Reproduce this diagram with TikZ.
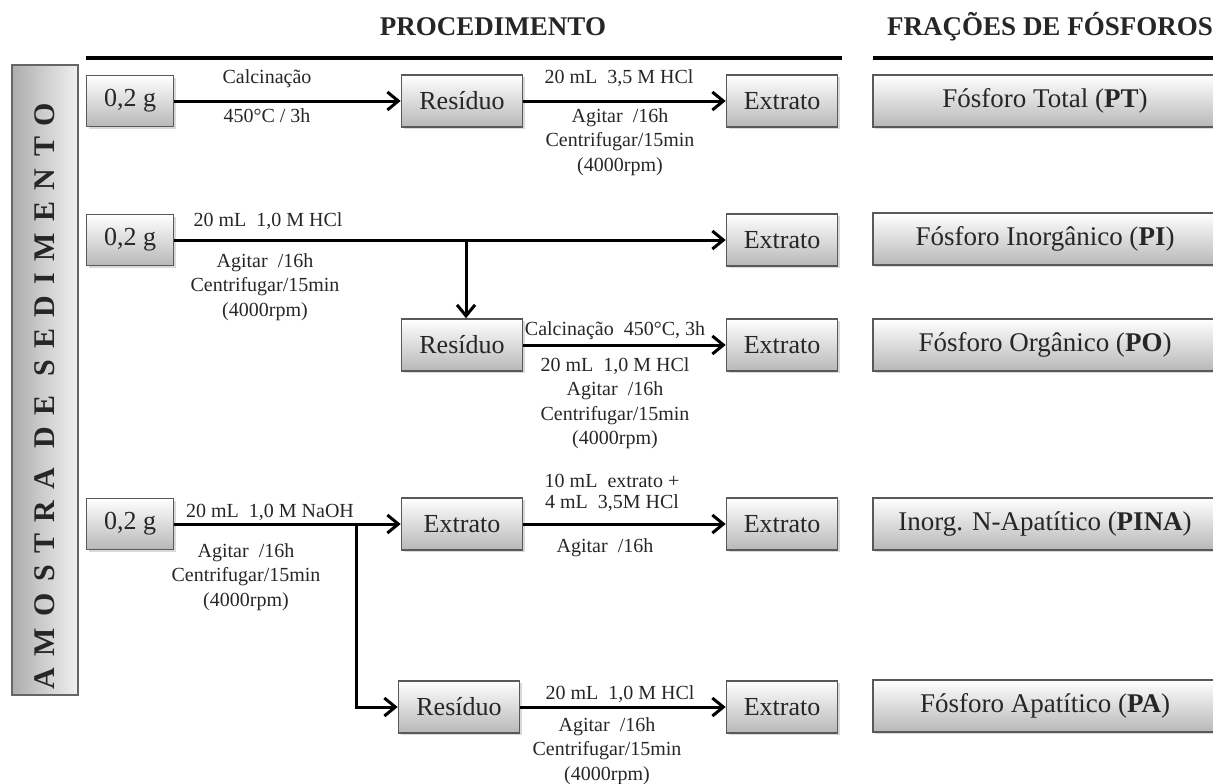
\documentclass[tikz,border=0pt]{standalone}
\usepackage{fontspec}
\setmainfont{Liberation Serif}
\usetikzlibrary{arrows.meta,shadows}

\tikzset{
  box/.style={draw=black!65, line width=0.8pt, top color=white, bottom color=black!28,
    drop shadow={shadow xshift=1.2pt, shadow yshift=-1.2pt, opacity=0.3},
    inner sep=0pt, text=black!85, font=\fontsize{13}{15}\selectfont},
  smallbox/.style={box, minimum width=43.5pt, minimum height=25.5pt},
  midbox/.style={box, minimum width=60.5pt, minimum height=26pt},
  outbox/.style={box, minimum width=55.5pt, minimum height=26pt},
  fracbox/.style={box, minimum width=172pt, minimum height=26pt, font=\fontsize{13.5}{15}\selectfont},
  lbl/.style={align=center, text=black!85, inner sep=0pt, font=\fontsize{10}{12.2}\selectfont},
  arr/.style={line width=1.5pt, -{Straight Barb[length=5.5pt,width=9pt]}},
  title/.style={font=\fontsize{13.5}{15}\selectfont\bfseries, text=black!85}
}

\begin{document}
\begin{tikzpicture}[x=0.5pt, y=-0.5pt]
  \useasboundingbox (0,0) rectangle (1213,783);

  % headings
  \node[title] (hproc) at (493,27) {PROCEDIMENTO};
  \node[title] (hfrac) at (1050,27) {FRAÇÕES DE FÓSFOROS};
  \draw[line width=2pt] (86,58) -- (842,58);
  \draw[line width=2pt] (873,58) -- (1225,58);

  % sample column
  \node[draw=black!60, line width=0.8pt, left color=black!32, right color=black!6,
    minimum width=33pt, minimum height=315pt, inner sep=0pt] (amostra) at (45,380) {};
  \node[rotate=90, text=black!85, font=\fontsize{15}{17}\selectfont\bfseries\addfontfeature{LetterSpace=38}]
    (amtxt) at (45,396) {AMOSTRA DE SEDIMENTO};

  % row 1: total
  \node[smallbox] (s1) at (130,101) {0,2 g};
  \node[midbox] (r1) at (462,101) {Resíduo};
  \node[outbox] (e1) at (782,101) {Extrato};
  \node[fracbox] (pt) at (1045,101) {Fósforo Total (\textbf{PT})};
  \draw[arr] (s1) -- (r1);
  \draw[arr] (r1) -- (e1);
  \node[lbl] (l1a) at (267,79) {Calcinação};
  \node[lbl] (l1b) at (267,116) {450°C / 3h};
  \node[lbl] (l1c) at (619,78) {20 mL\ \ 3,5 M HCl};
  \node[lbl] (l1d) at (620,142) {Agitar\ \ /16h\\Centrifugar/15min\\(4000rpm)};

  % row 2 and 3: inorganic / organic
  \node[smallbox] (s2) at (130,240) {0,2 g};
  \node[outbox] (e2) at (782,240) {Extrato};
  \node[fracbox] (pi) at (1045,239) {Fósforo Inorgânico\ (\textbf{PI})};
  \node[midbox] (r3) at (462,345) {Resíduo};
  \node[outbox] (e3) at (782,345) {Extrato};
  \node[fracbox] (po) at (1045,345) {Fósforo Orgânico (\textbf{PO})};
  \draw[arr] (s2) -- (e2);
  \coordinate (br2) at (466,240);
  \draw[arr] (br2) -- (br2 |- r3.north);
  \draw[arr] (r3) -- (e3);
  \node[lbl] (l2a) at (268,221) {20 mL\ \ 1,0 M HCl};
  \node[lbl] (l2b) at (265,287) {Agitar\ \ /16h\\Centrifugar/15min\\(4000rpm)};
  \node[lbl] (l3a) at (615,331) {Calcinação\ \ 450°C, 3h};
  \node[lbl] (l3b) at (615,403) {20 mL\ \ 1,0 M HCl\\Agitar\ \ /16h\\Centrifugar/15min\\(4000rpm)};

  % row 4 and 5: apatite fractions
  \node[smallbox] (s4) at (130,524) {0,2 g};
  \node[midbox] (x4) at (462,524) {Extrato};
  \node[outbox] (e4) at (782,524) {Extrato};
  \node[fracbox] (pina) at (1045,524) {Inorg. N-Apatítico (\textbf{PINA})};
  \node[midbox] (r5) at (459,707) {Resíduo};
  \node[outbox] (e5) at (782,707) {Extrato};
  \node[fracbox] (pa) at (1045,706) {Fósforo Apatítico (\textbf{PA})};
  \draw[arr] (s4) -- (x4);
  \coordinate (br4) at (356,524);
  \draw[arr] (br4) |- (r5.west);
  \draw[arr] (x4) -- (e4);
  \draw[arr] (r5) -- (e5);
  \node[lbl] (l4a) at (270,512) {20 mL\ \ 1,0 M NaOH};
  \node[lbl] (l4b) at (246,577) {Agitar\ \ /16h\\Centrifugar/15min\\(4000rpm)};
  \node[lbl, font=\fontsize{10}{10.5}\selectfont] (l4c) at (612,493) {10 mL\ \ extrato +\\4 mL\ \ 3,5M HCl};
  \node[lbl] (l4d) at (605,548) {Agitar\ \ /16h};
  \node[lbl] (l5a) at (620,694) {20 mL\ \ 1,0 M HCl};
  \node[lbl] (l5b) at (607,751) {Agitar\ \ /16h\\Centrifugar/15min\\(4000rpm)};
\end{tikzpicture}
\end{document}
